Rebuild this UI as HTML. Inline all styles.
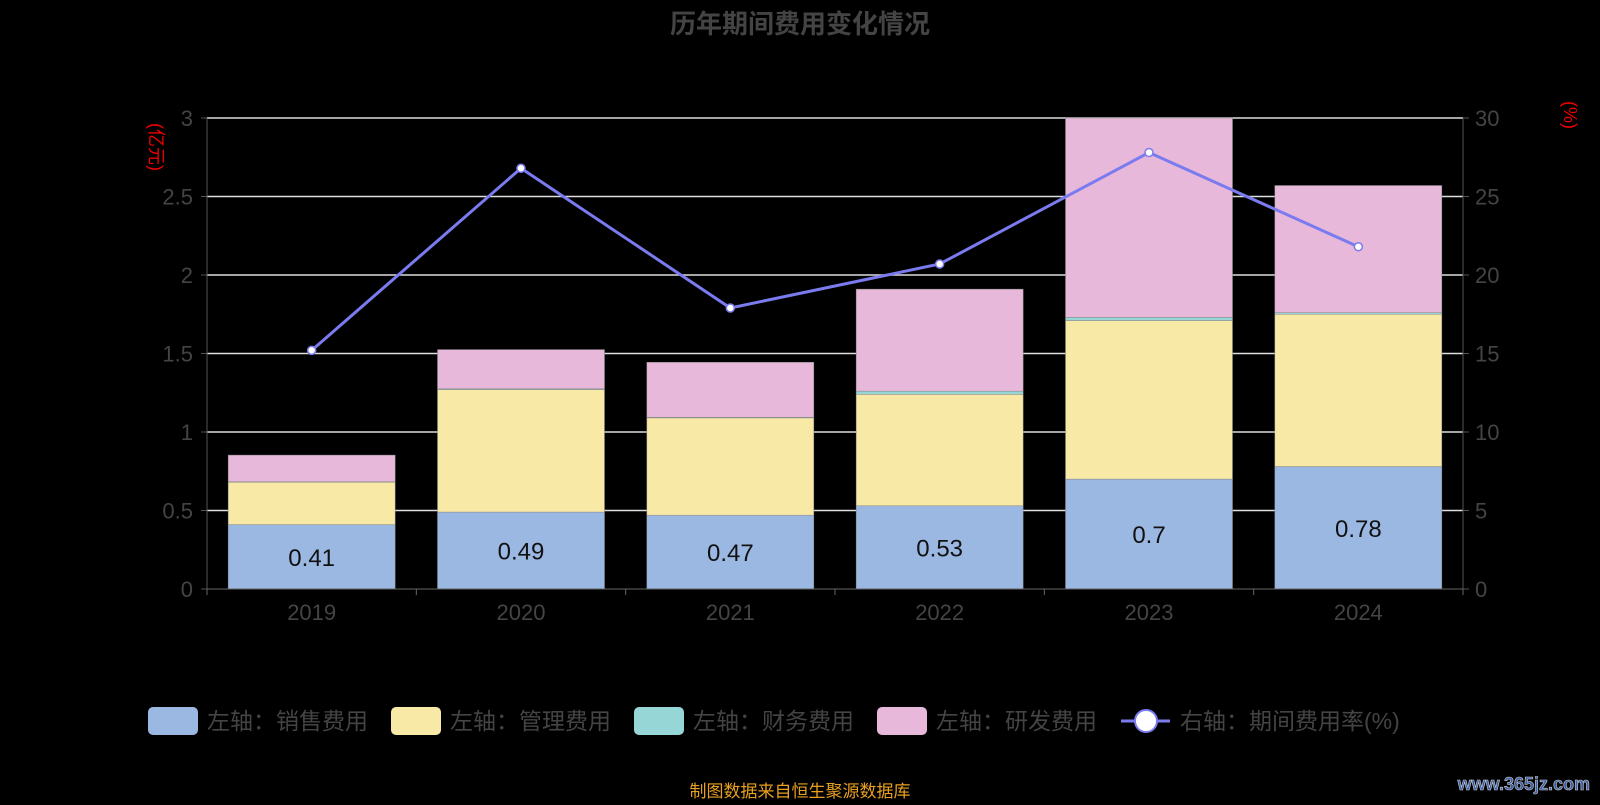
<!DOCTYPE html>
<html><head><meta charset="utf-8"><style>
html,body{margin:0;padding:0;background:#000;}
svg text{font-family:"Liberation Sans","Noto Sans CJK SC",sans-serif;}
</style></head><body>
<svg id="chart" width="1600" height="800" viewBox="0 0 1600 800" xmlns="http://www.w3.org/2000/svg">
<rect width="1600" height="800" fill="#000"/>
<text x="800" y="33" text-anchor="middle" font-size="26" font-weight="bold" fill="#444">历年期间费用变化情况</text>
<text transform="translate(150,147) rotate(90)" text-anchor="middle" font-size="18" fill="#e00">(亿元)</text>
<text transform="translate(1564,115) rotate(90)" text-anchor="middle" font-size="18" fill="#e00">(%)</text>
<g id="grid"></g><g id="bars"></g><g id="axes"></g><g id="line"></g>
<g id="legend"></g>
<text x="800" y="797" text-anchor="middle" font-size="17" fill="#e8a020">制图数据来自恒生聚源数据库</text>
<text x="1590" y="790" text-anchor="end" font-size="18" font-weight="bold" fill="#3a5fa8" stroke="#ccc" stroke-width="0.6">www.365jz.com</text>
</svg>
<script>
const categories=["2019","2020","2021","2022","2023","2024"];
const sales=[0.41,0.49,0.47,0.53,0.70,0.78];
const mgmt=[0.27,0.78,0.62,0.71,1.01,0.97];
const finance=[0.003,0.005,0.004,0.02,0.02,0.01];
const rnd=[0.17,0.25,0.35,0.65,1.27,0.81];
const rate=[15.2,26.8,17.9,20.7,27.8,21.8];
const leftTicks=[0,0.5,1,1.5,2,2.5,3];
const rightTicks=[0,5,10,15,20,25,30];
const NS="http://www.w3.org/2000/svg";
const X0=207,X1=1463,Y0=589,Y1=118;
const band=(X1-X0)/categories.length, bw=167;
const yL=v=>Y0-(v/3)*(Y0-Y1);
const yR=v=>Y0-(v/30)*(Y0-Y1);
const xC=i=>X0+band*(i+0.5);
function mk(tag,attrs,parent){const e=document.createElementNS(NS,tag);for(const k in attrs)e.setAttribute(k,attrs[k]);document.getElementById(parent).appendChild(e);return e;}
leftTicks.forEach((t,i)=>{
 if(t>0){const g=mk('line',{x1:X0,x2:X1,y1:yL(t),y2:yL(t),stroke:'#ddd','stroke-width':1.5},'grid');
 
 }
 const tk=mk('line',{x1:X0-6,x2:X0,y1:yL(t),y2:yL(t),stroke:'#555'},'axes');
 const lt=mk('text',{x:X0-14,y:yL(t)+8,'text-anchor':'end','font-size':22,fill:'#444'},'axes');lt.textContent=t;
 
 
});
rightTicks.forEach(t=>{
 mk('line',{x1:X1,x2:X1+6,y1:yR(t),y2:yR(t),stroke:'#555'},'axes');
 const rt=mk('text',{x:X1+12,y:yR(t)+8,'font-size':22,fill:'#444'},'axes');rt.textContent=t;
 
 
});
mk('line',{x1:X0,x2:X0,y1:Y1,y2:Y0,stroke:'#555'},'axes');
mk('line',{x1:X1,x2:X1,y1:Y1,y2:Y0,stroke:'#555'},'axes');
mk('line',{x1:X0,x2:X1,y1:Y0,y2:Y0,stroke:'#666'},'axes');
for(let i=0;i<=categories.length;i++)mk('line',{x1:X0+band*i,x2:X0+band*i,y1:Y0,y2:Y0+6,stroke:'#666'},'axes');
const series=[[sales,'#9bb8e3','bar-sales'],[mgmt,'#f9e9a7','bar-management'],[finance,'#96d6d6','bar-finance'],[rnd,'#e8b8da','bar-rnd']];
categories.forEach((c,i)=>{
 let base=0;
 series.forEach(([arr,col,nm])=>{
  const v=arr[i];const r=mk('rect',{x:xC(i)-bw/2,y:yL(base+v),width:bw,height:yL(base)-yL(base+v),fill:col,stroke:'#888','stroke-width':0.5},'bars');
  
  
  base+=v;
 });
 const vl=mk('text',{x:xC(i),y:(yL(0)+yL(sales[i]))/2+9,'text-anchor':'middle','font-size':24,fill:'#111'},'bars');vl.textContent=sales[i];
 
 
 const xl=mk('text',{x:xC(i),y:620,'text-anchor':'middle','font-size':22,fill:'#444'},'axes');xl.textContent=c;
 
 
});
const pl=mk('polyline',{points:rate.map((v,i)=>xC(i)+','+yR(v)).join(' '),fill:'none',stroke:'#7b7bf0','stroke-width':3},'line');


rate.forEach((v,i)=>{const p=mk('circle',{cx:xC(i),cy:yR(v),r:4,fill:'#fff',stroke:'#7b7bf0','stroke-width':1.5},'line');
 
 });
const leg=[['左轴：销售费用','#9bb8e3',148],['左轴：管理费用','#f9e9a7',391],['左轴：财务费用','#96d6d6',634],['左轴：研发费用','#e8b8da',877]];
leg.forEach(([t,col,x])=>{
 const r=mk('rect',{x:x,y:707,width:50,height:28,rx:5,fill:col},'legend');
 
 
 const tx=mk('text',{x:x+59,y:729,'font-size':23,fill:'#444'},'legend');tx.textContent=t;
 
 
});
mk('line',{x1:1121,x2:1170,y1:721,y2:721,stroke:'#7b7bf0','stroke-width':3},'legend');
const lc=mk('circle',{cx:1146,cy:721,r:11,fill:'#fff',stroke:'#7b7bf0','stroke-width':2},'legend');


const lt2=mk('text',{x:1180,y:729,'font-size':23,fill:'#444'},'legend');lt2.textContent='右轴：期间费用率(%)';


</script>
</body></html>
